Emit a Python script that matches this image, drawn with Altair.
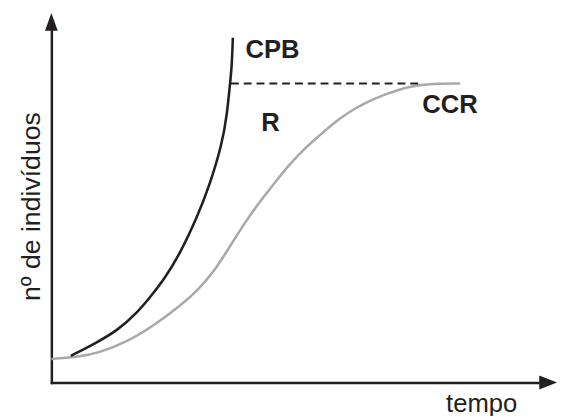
import altair as alt
import pandas as pd

# gray logistic curve (CCR)
ccr_t = [0.0, 5.7, 9.7, 15.8, 20.8, 26.5, 29.9, 33.3, 36.6, 40.0, 43.4, 46.7, 48.7,
         52.1, 55.6, 58.8, 62.2, 65.7, 68.9, 72.3, 75.8, 79.0, 83.8]
ccr_n = [6.7, 7.3, 8.4, 11.8, 16.0, 21.9, 26.1, 31.4, 38.7, 46.2, 52.6, 58.4, 61.8,
         66.8, 71.0, 74.8, 77.9, 80.4, 82.1, 83.8, 84.6, 85.0, 85.0]

# black exponential curve (CPB)
cpb_t = [4.0, 9.1, 13.7, 17.8, 19.8, 23.2, 26.5, 29.9, 32.3, 35.0, 36.0, 36.6, 37.0, 37.2]
cpb_n = [7.6, 11.2, 14.9, 20.2, 23.5, 29.4, 37.0, 47.1, 55.5, 67.8, 76.2, 84.6, 90.2, 98.0]

# dashed carrying-capacity line
dash_t = [36.8]
dash_t2 = [75.8]
dash_n = [85.0]

# labels
label_text = ["CPB", "R", "CCR"]
label_t = [39.8, 43.0, 76.0]
label_n = [92.2, 71.4, 76.5]

INK = "#231f20"
GRAY = "#a7a9ac"
FONT = "Liberation Sans"

xs = alt.Scale(domain=[0, 100], nice=False, zero=False)
ys = alt.Scale(domain=[0, 100], nice=False, zero=False)

x_axis = alt.Axis(title="tempo", ticks=False, labels=False, grid=False,
                  domainColor=INK, domainWidth=2.5, domainCap="square",
                  titleFont=FONT, titleFontSize=26, titleFontWeight="normal",
                  titleColor=INK, titleX=400, titleY=29, titleAlign="left",
                  titleBaseline="alphabetic")
y_axis = alt.Axis(title="nº de indivíduos", ticks=False, labels=False, grid=False,
                  domainColor=INK, domainWidth=2.5, domainCap="square",
                  titleFont=FONT, titleFontSize=27, titleFontWeight="normal",
                  titleColor=INK, titleX=-12, titleY=178, titleAlign="center",
                  titleBaseline="alphabetic", titleAngle=270)

ccr_df = pd.DataFrame({"t": ccr_t, "n": ccr_n})
cpb_df = pd.DataFrame({"t": cpb_t, "n": cpb_n})
dash_df = pd.DataFrame({"t": dash_t, "t2": dash_t2, "n": dash_n})
lab_df = pd.DataFrame({"label": label_text, "t": label_t, "n": label_n})

gray = alt.Chart(ccr_df).mark_line(color=GRAY, strokeWidth=2.6, interpolate="basis").encode(
    x=alt.X("t:Q", scale=xs, axis=x_axis),
    y=alt.Y("n:Q", scale=ys, axis=y_axis),
)
black = alt.Chart(cpb_df).mark_line(color=INK, strokeWidth=2.6, interpolate="basis").encode(
    x=alt.X("t:Q", scale=xs),
    y=alt.Y("n:Q", scale=ys),
)
dash = alt.Chart(dash_df).mark_rule(color=INK, strokeWidth=2, strokeDash=[8, 5]).encode(
    x=alt.X("t:Q", scale=xs),
    x2="t2:Q",
    y=alt.Y("n:Q", scale=ys),
)
labels = alt.Chart(lab_df).mark_text(font=FONT, fontSize=26, fontWeight="bold", color=INK,
                                     align="left", baseline="alphabetic").encode(
    x=alt.X("t:Q", scale=xs),
    y=alt.Y("n:Q", scale=ys),
    text="label:N",
)
arrow_y = alt.Chart(pd.DataFrame({"t": [0], "n": [100]})).mark_point(
    shape="M0,-1L0.72,1L-0.72,1Z", filled=True, size=324, color=INK, opacity=1,
    strokeWidth=0, yOffset=-9).encode(
    x=alt.X("t:Q", scale=xs), y=alt.Y("n:Q", scale=ys))
arrow_x = alt.Chart(pd.DataFrame({"t": [100], "n": [0]})).mark_point(
    shape="M1,0L-1,-0.78L-1,0.78Z", filled=True, size=324, color=INK, opacity=1,
    strokeWidth=0, xOffset=9).encode(
    x=alt.X("t:Q", scale=xs), y=alt.Y("n:Q", scale=ys))

chart = alt.layer(gray, black, dash, labels, arrow_y, arrow_x).properties(
    width=495, height=357,
    autosize=alt.AutoSizeParams(type="none"),
    padding={"left": 44, "top": 20, "right": 18, "bottom": 31},
    background="white",
).configure_view(stroke=None)

chart.save("out.html", embed_options={"renderer": "svg", "actions": False})
